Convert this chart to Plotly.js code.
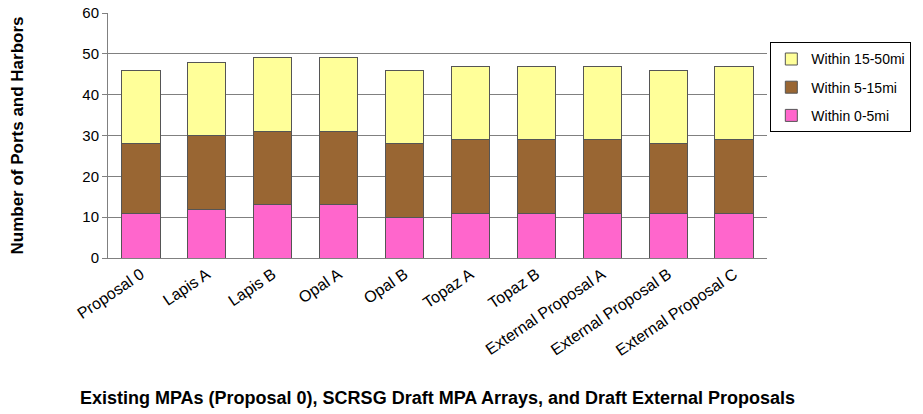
<!DOCTYPE html>
<html><head><meta charset="utf-8">
<script src="https://cdn.plot.ly/plotly-3.0.1.min.js"></script>
<style>html,body{margin:0;padding:0;background:#fff}#chart{width:923px;height:414px}</style>
</head><body><div id="chart"></div>
<script>
const categories = ["Proposal 0","Lapis A","Lapis B","Opal A","Opal B","Topaz A","Topaz B","External Proposal A","External Proposal B","External Proposal C"];
const within0to5 = [11,12,13,13,10,11,11,11,11,11];
const within5to15 = [17,18,18,18,18,18,18,18,17,18];
const within15to50 = [18,18,18,18,18,18,18,18,18,18];
const seriesNames = ["Within 0-5mi","Within 5-15mi","Within 15-50mi"];
const seriesColors = ["#FF66CC","#996633","#FFFF99"];
const seriesValues = [within0to5, within5to15, within15to50];

const traces = seriesValues.map((vals, i) => ({
  type: 'bar', x: categories, y: vals, name: seriesNames[i], legendgroup: 'g' + i,
  legendrank: 100 - i,
  marker: {color: seriesColors[i], line: {color: '#555555', width: 1}},
  hoverinfo: 'x+y+name'
}));

const FONT = 'Arial, "Liberation Sans", sans-serif';
const layout = {
  width: 923, height: 414,
  barmode: 'stack', bargap: 0.42,
  margin: {l: 108, r: 154, t: 13, b: 156},
  paper_bgcolor: '#ffffff', plot_bgcolor: '#ffffff',
  font: {family: FONT, size: 14, color: '#000'},
  xaxis: {
    tickangle: -34, showline: true, linecolor: '#808080', linewidth: 1,
    ticks: '', showgrid: false,
    tickfont: {size: 16, family: FONT},
    title: {text: '<b>Existing MPAs (Proposal 0), SCRSG Draft MPA Arrays, and Draft External Proposals</b>',
            font: {size: 18, family: FONT}, standoff: 33}
  },
  yaxis: {
    range: [0, 60], dtick: 10, showline: true, linecolor: '#808080', linewidth: 1,
    ticks: 'outside', ticklen: 5, tickcolor: '#808080',
    showgrid: true, gridcolor: '#808080', gridwidth: 1, zeroline: false,
    tickfont: {size: 15, family: FONT},
    title: {text: '<b>Number of Ports and Harbors</b>', font: {size: 17, family: FONT}, standoff: 54}
  },
  legend: {
    x: 1.219, xanchor: 'right', y: 0.88, yanchor: 'top',
    bordercolor: '#000', borderwidth: 1, bgcolor: '#fff',
    font: {size: 14, family: FONT}, traceorder: 'grouped', tracegroupgap: 7,
    itemwidth: 30
  },
  showlegend: true
};
Plotly.newPlot('chart', traces, layout, {displayModeBar: false, staticPlot: true});
</script></body></html>
